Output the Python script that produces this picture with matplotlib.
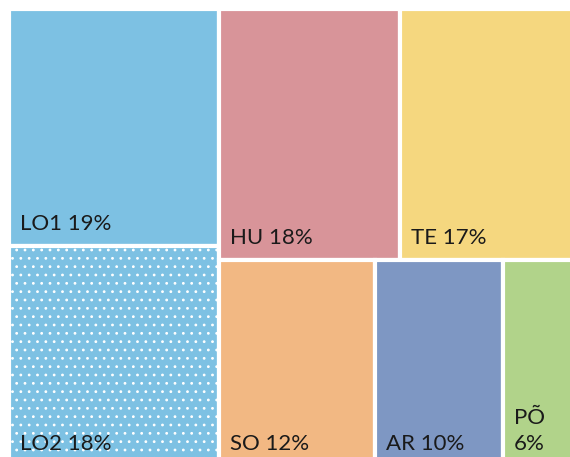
import matplotlib.pyplot as plt
from matplotlib.patches import Rectangle

# treemap data (shares)
names = ['LO1', 'LO2', 'HU', 'TE', 'SO', 'AR', 'PÕ']
values = [19.2, 17.8, 17.5, 17.2, 12.4, 10.1, 5.9]
labels = ['LO1 19%', 'LO2 18%', 'HU 18%', 'TE 17%', 'SO 12%', 'AR 10%', 'PÕ\n6%']
colors = ['#7dc1e3', '#7dc1e3', '#d89499', '#f5d77f', '#f2b883', '#7e97c3', '#b1d38a']
hatches = [None, '..', None, None, None, None, None]

# layout: left column stacked, right side two rows
left_col = [0, 1]
right_rows = [[2, 3], [4, 5, 6]]

total = sum(values)
rects = {}
left_w = sum(values[i] for i in left_col) / total
y = 0
for i in left_col:
    h = values[i] / sum(values[j] for j in left_col)
    rects[i] = (0, y, left_w, h)
    y += h
right_sum = sum(values[i] for row in right_rows for i in row)
y = 0
for row in right_rows:
    row_sum = sum(values[i] for i in row)
    h = row_sum / right_sum
    x = left_w
    for i in row:
        w = (1 - left_w) * values[i] / row_sum
        rects[i] = (x, y, w, h)
        x += w
    y += h

plt.rcParams['font.family'] = ['Lato', 'DejaVu Sans']
plt.rcParams['hatch.linewidth'] = 0.8

fig = plt.figure(figsize=(5.7, 4.57), dpi=100)
W, H = 570, 457
# treemap runs past the right and bottom edges of the picture
ax = fig.add_axes([9 / W, 1 - (9 + 456) / H, 568 / W, 456 / H])
ax.set_xlim(0, 1)
ax.set_ylim(1, 0)
ax.axis('off')

for i in range(len(names)):
    x, y, w, h = rects[i]
    ax.add_patch(Rectangle((x, y), w, h, facecolor=colors[i], edgecolor='white',
                           linewidth=3, hatch=hatches[i]))
    ax.annotate(labels[i], (x, y + h), xytext=(8, 11), textcoords='offset points',
                ha='left', va='baseline', fontsize=16, color='#1a1a1a',
                linespacing=1.35)

fig.savefig('out.png', dpi=100)
